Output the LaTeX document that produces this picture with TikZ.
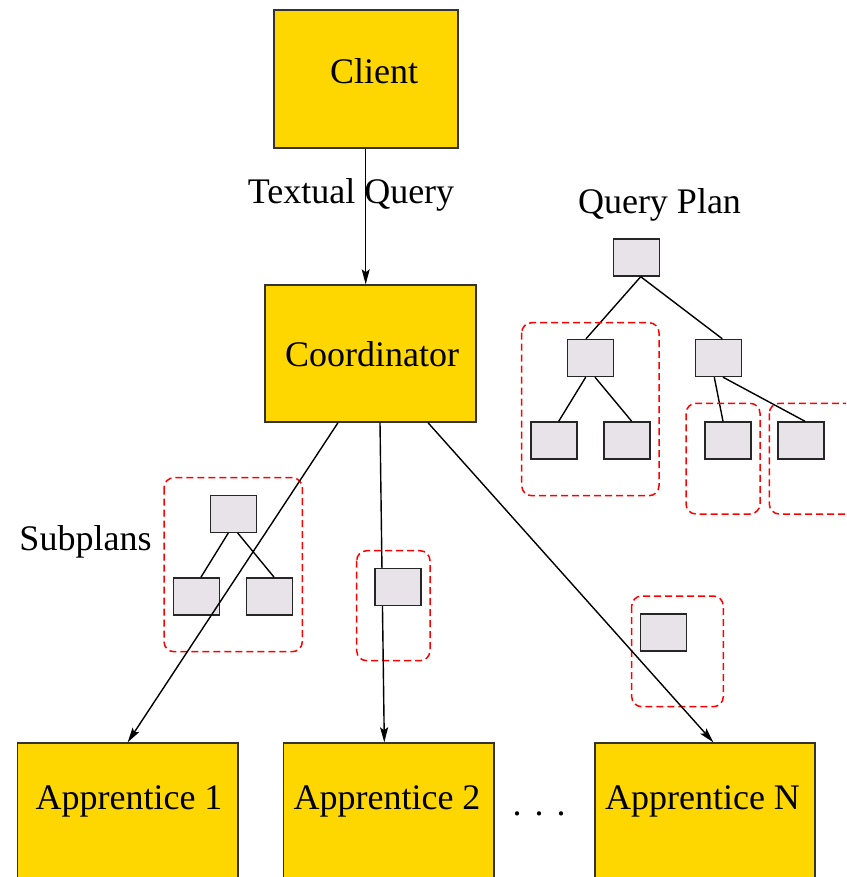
\documentclass[tikz,border=0pt]{standalone}
\usepackage{fontspec}
\setmainfont{Liberation Serif}
\usepackage{tikz}
\usetikzlibrary{arrows.meta}

\definecolor{figgold}{RGB}{255,215,0}
\definecolor{planfill}{RGB}{231,227,233}

\tikzset{
    goldbox/.style={draw=black!80, line width=1.4pt, fill=figgold, inner sep=0pt},
    planbox/.style={draw=black!85, line width=1.4pt, fill=planfill, inner sep=0pt,
                    minimum width=46pt, minimum height=37pt},
    grp/.style={draw=red, line width=1.5pt, dash pattern=on 7pt off 4pt, rounded corners=10pt},
    lbl/.style={anchor=base, inner sep=0pt},
    conn/.style={line width=1.4pt},
    flow/.style={line width=1.4pt, -{Stealth[length=15pt,width=8pt,inset=3pt]}}
}

\begin{document}
\begin{tikzpicture}[x=1pt, y=-1pt, font=\fontsize{36}{42}\selectfont]
            \clip (0,0) rectangle (846,877);
            % main boxes
            \node[goldbox, minimum width=184pt, minimum height=138pt] (client) at (366,79) {};
            \node[goldbox, minimum width=211pt, minimum height=137pt] (coord) at (370.5,353.5) {};
            \node[goldbox, minimum width=220.7pt, minimum height=160pt] (app1) at (127.7,823) {};
            \node[goldbox, minimum width=210.7pt, minimum height=160pt] (app2) at (388.7,823) {};
            \node[goldbox, minimum width=220pt, minimum height=160pt] (appn) at (705,823) {};
            \node[lbl] (tclient) at (374,83.3) {Client};
            \node[lbl] (tcoord) at (372,366.7) {Coordinator};
            \node[lbl] (tapp1) at (129,809) {Apprentice 1};
            \node[lbl] (tapp2) at (387,809) {Apprentice 2};
            \node[lbl] (tappn) at (702.5,809) {Apprentice N};
            \node[lbl] (dots) at (539,815) {.\hspace{13pt}.\hspace{13pt}.};
            \node[lbl] (tquery) at (351,203.3) {Textual Query};
            \node[lbl] (tplan) at (659.5,213.3) {Query Plan};
            \node[lbl] (tsub) at (85.5,550.7) {Subplans};
            % query plan tree
            \node[planbox] (p0) at (636.3,257.5) {};
            \node[planbox] (pl) at (590.5,358) {};
            \node[planbox] (pr) at (718.7,358) {};
            \node[planbox] (pll) at (553.9,440.5) {};
            \node[planbox] (plr) at (627,440.5) {};
            \node[planbox] (prl) at (727.9,440.5) {};
            \node[planbox] (prr) at (801,440.5) {};
            \draw[conn] ([xshift=4.4pt]p0.south) -- ([xshift=-4.5pt]pl.north);
            \draw[conn] ([xshift=4.4pt]p0.south) -- ([xshift=3.6pt]pr.north);
            \draw[conn] ([xshift=-4.8pt]pl.south) -- ([xshift=4.8pt]pll.north);
            \draw[conn] ([xshift=4.5pt]pl.south) -- ([xshift=4.7pt]plr.north);
            \draw[conn] ([xshift=-4.4pt]pr.south) -- ([xshift=-4.9pt]prl.north);
            \draw[conn] ([xshift=4.3pt]pr.south) -- ([xshift=4pt]prr.north);
            \draw[grp] (521.7,322.7) rectangle (659,495.7);
            \draw[grp] (686,403.3) rectangle (760,514);
            \draw[grp] (769.3,403.3) rectangle (870,514);
            % subplans
            \node[planbox] (s0) at (233.2,513.8) {};
            \node[planbox] (sl) at (196.5,596.3) {};
            \node[planbox] (sr) at (269.7,596.3) {};
            \draw[conn] ([xshift=-4.9pt]s0.south) -- ([xshift=4.5pt]sl.north);
            \draw[conn] ([xshift=4.5pt]s0.south) -- ([xshift=4.3pt]sr.north);
            \draw[grp] (164,477.7) rectangle (302.3,651.7);
            \node[planbox] (q) at (663.7,632.5) {};
            \draw[grp] (631.7,596) rectangle (723.3,706.7);
            \draw[grp] (356.7,550.7) rectangle (430,660.7);
            % arrows
            \draw[flow] ([xshift=-0.3pt]client.south) -- ([xshift=-4.8pt]coord.north);
            \draw[flow] ([xshift=-32.5pt]coord.south) -- (app1.north);
            \draw[flow] ([xshift=9.5pt]coord.south) -- ([xshift=-4.4pt]app2.north);
            \draw[flow] ([xshift=57.5pt]coord.south) -- ([xshift=8.3pt]appn.north);
            \node[planbox] (m) at (398,587.2) {};
        \end{tikzpicture}
\end{document}
